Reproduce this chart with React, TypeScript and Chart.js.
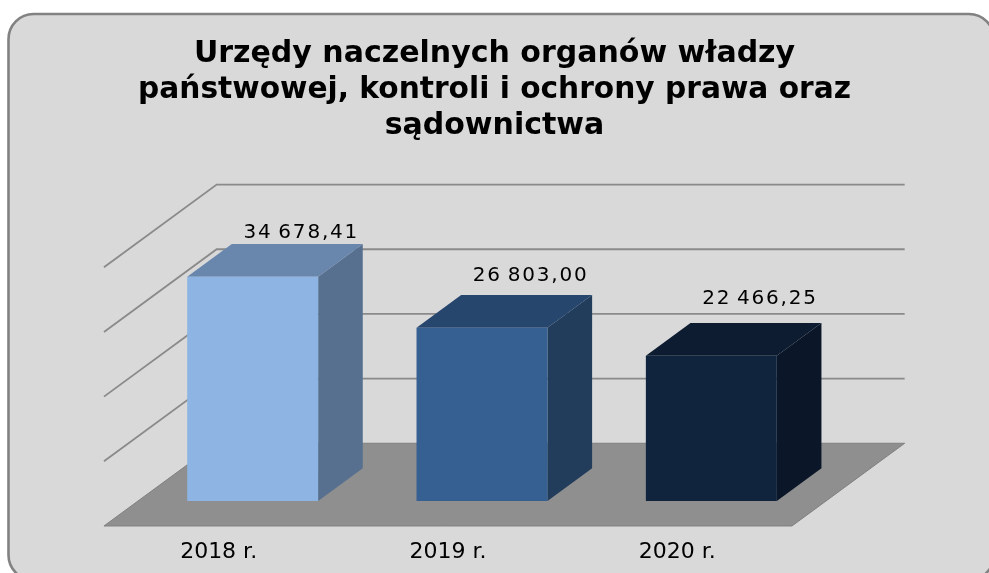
import React, { useEffect, useRef } from "react";
import { Chart, registerables } from "chart.js";

Chart.register(...registerables);

// ---- data ----
const categories = ["2018 r.", "2019 r.", "2020 r."];
const values = [34678.41, 26803.0, 22466.25];
const yTickValues = [0, 10000, 20000, 30000, 40000];
const yMax = 40000;
const titleLines = [
  "Urzędy naczelnych organów władzy",
  "państwowej, kontroli i ochrony prawa oraz",
  "sądownictwa",
];
const frontColors = ["#8eb4e3", "#366092", "#10243e"];
const topColors = ["#6986ad", "#27466d", "#0d1c31"];
const sideColors = ["#57708f", "#223c5c", "#0b1729"];

// ---- 3D look ----
const DEPTH_DX = 112.7; // floor front edge -> back wall
const DEPTH_DY = -82.7;
const BAR_FRONT = 0.302; // bar front plane (chart area) as a fraction of the depth
const BAR_BACK = 0.698;

function formatPl(v: number): string {
  const [intPart, dec] = v.toFixed(2).split(".");
  const grouped = intPart.replace(/\B(?=(\d{3})+(?!\d))/g, "\u2009");
  return grouped + "," + dec;
}

const panelPlugin = {
  id: "panel",
  beforeDraw(chart: any) {
    const { ctx, width, height } = chart;
    ctx.save();
    ctx.fillStyle = "#ffffff";
    ctx.fillRect(0, 0, width, height);
    const x = 8.5, y = 14, w = 985.5, h = 566, r = 25;
    ctx.beginPath();
    ctx.moveTo(x + r, y);
    ctx.lineTo(x + w - r, y);
    ctx.arcTo(x + w, y, x + w, y + r, r);
    ctx.lineTo(x + w, y + h - r);
    ctx.arcTo(x + w, y + h, x + w - r, y + h, r);
    ctx.lineTo(x + r, y + h);
    ctx.arcTo(x, y + h, x, y + h - r, r);
    ctx.lineTo(x, y + r);
    ctx.arcTo(x, y, x + r, y, r);
    ctx.closePath();
    ctx.fillStyle = "#d9d9d9";
    ctx.fill();
    ctx.lineWidth = 2.6;
    ctx.strokeStyle = "#828282";
    ctx.stroke();
    ctx.restore();
  },
};

const scenePlugin = {
  id: "scene3d",
  beforeDatasetsDraw(chart: any) {
    const { ctx, chartArea, scales } = chart;
    const { left, right } = chartArea;
    const ys = scales.y;
    const fx = -BAR_FRONT * DEPTH_DX, fy = -BAR_FRONT * DEPTH_DY;
    const wx = (1 - BAR_FRONT) * DEPTH_DX, wy = (1 - BAR_FRONT) * DEPTH_DY;
    const y0 = ys.getPixelForValue(0);
    ctx.save();
    // floor
    ctx.beginPath();
    ctx.moveTo(left + fx, y0 + fy);
    ctx.lineTo(right + fx, y0 + fy);
    ctx.lineTo(right + wx, y0 + wy);
    ctx.lineTo(left + wx, y0 + wy);
    ctx.closePath();
    ctx.fillStyle = "#8f8f8f";
    ctx.fill();
    ctx.lineWidth = 1;
    ctx.strokeStyle = "#808080";
    ctx.stroke();
    // gridlines on side wall and back wall
    ctx.lineWidth = 1.8;
    ctx.strokeStyle = "#8a8a8a";
    yTickValues.forEach((v) => {
      if (v === 0) return;
      const py = ys.getPixelForValue(v);
      ctx.beginPath();
      ctx.moveTo(left + fx, py + fy);
      ctx.lineTo(left + wx, py + wy);
      ctx.lineTo(right + wx, py + wy);
      ctx.stroke();
    });
    // bar tops and sides
    const bx = (BAR_BACK - BAR_FRONT) * DEPTH_DX;
    const by = (BAR_BACK - BAR_FRONT) * DEPTH_DY;
    const meta = chart.getDatasetMeta(0);
    meta.data.forEach((el: any, i: number) => {
      const p = el.getProps(["x", "y", "base", "width"], true);
      const l = p.x - p.width / 2, r = p.x + p.width / 2;
      const t = p.y, b = p.base;
      ctx.beginPath();
      ctx.moveTo(r, t);
      ctx.lineTo(r + bx, t + by);
      ctx.lineTo(r + bx, b + by);
      ctx.lineTo(r, b);
      ctx.closePath();
      ctx.fillStyle = sideColors[i];
      ctx.fill();
      ctx.beginPath();
      ctx.moveTo(l, t);
      ctx.lineTo(r, t);
      ctx.lineTo(r + bx, t + by);
      ctx.lineTo(l + bx, t + by);
      ctx.closePath();
      ctx.fillStyle = topColors[i];
      ctx.fill();
    });
    ctx.restore();
  },
  afterDatasetsDraw(chart: any) {
    const { ctx } = chart;
    const bx = (BAR_BACK - BAR_FRONT) * DEPTH_DX;
    const by = (BAR_BACK - BAR_FRONT) * DEPTH_DY;
    const meta = chart.getDatasetMeta(0);
    ctx.save();
    ctx.font = "20px 'DejaVu Sans'";
    ctx.fillStyle = "#000000";
    ctx.textAlign = "center";
    ctx.textBaseline = "middle";
    try { (ctx as any).letterSpacing = "1.8px"; } catch (e) {}
    meta.data.forEach((el: any, i: number) => {
      const p = el.getProps(["x", "y", "base"], true);
      // labels sit above the bar's back top edge, slightly foreshortened like the original view
      const h = p.base - p.y;
      const ly = p.base + by - 0.835 * h - 48;
      ctx.fillText(formatPl(values[i]), p.x + bx + 4, ly);
    });
    ctx.restore();
  },
};

export default function App() {
  const canvasRef = useRef<HTMLCanvasElement | null>(null);
  useEffect(() => {
    const canvas = canvasRef.current;
    if (!canvas) return;
    const chart = new Chart(canvas, {
      type: "bar",
      data: {
        labels: categories,
        datasets: [
          {
            data: values,
            backgroundColor: frontColors,
            borderWidth: 0,
            barPercentage: 0.571,
            categoryPercentage: 1,
          },
        ],
      },
      options: {
        responsive: false,
        animation: false,
        devicePixelRatio: 1,
        layout: { padding: { left: 138, right: 138, top: 0, bottom: 0 } },
        plugins: {
          legend: { display: false },
          tooltip: { enabled: false },
          title: {
            display: true,
            text: titleLines,
            color: "#000000",
            font: { family: "'DejaVu Sans'", size: 30, weight: "bold", lineHeight: 36.2 / 30 },
            padding: { top: 35.8, bottom: 97.9 },
          },
        },
        scales: {
          x: {
            grid: { display: false, drawTicks: false },
            border: { display: false },
            ticks: {
              color: "#000000",
              font: { family: "'DejaVu Sans'", size: 22 },
              padding: 37.8,
              labelOffset: -BAR_FRONT * DEPTH_DX,
              autoSkip: false,
              maxRotation: 0,
            },
            afterFit: (s: any) => {
              s.height = 72;
            },
          },
          y: {
            display: true,
            position: "right",
            min: 0,
            max: yMax,
            grid: { display: false, drawTicks: false },
            border: { display: false },
            ticks: { display: false },
            afterFit: (s: any) => {
              s.width = 25;
            },
          },
        },
      },
      plugins: [panelPlugin, scenePlugin],
    });
    return () => chart.destroy();
  }, []);
  return (
    <div style={{ position: "fixed", left: 0, top: 0, width: 989, height: 573, overflow: "hidden" }}>
      <canvas ref={canvasRef} width={989} height={573} style={{ display: "block", width: 989, height: 573 }} />
    </div>
  );
}
